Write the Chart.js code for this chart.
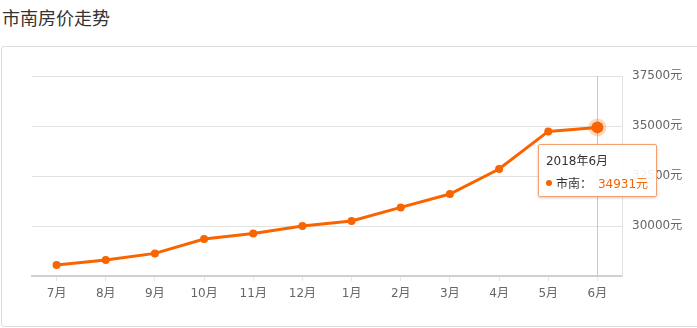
<!DOCTYPE html>
<html>
<head>
<meta charset="utf-8">
<script src="https://cdn.jsdelivr.net/npm/chart.js@4"></script>
<style>
  body { margin: 0; width: 697px; height: 328px; overflow: hidden; background: #fff;
    font-family: "Noto Sans CJK SC", "Noto Sans", sans-serif; position: relative; }
  .titulo { position: absolute; left: 2px; top: 4px; font-size: 18px; color: #333; }
  .card { position: absolute; left: 1px; top: 46px; width: 710px; height: 281px;
    border: 1px solid #ddd; border-radius: 3px; box-sizing: border-box; }
  #wrap { position: absolute; left: 0; top: 0; width: 697px; height: 328px; }
  #tip { position: absolute; display: none; background: rgba(255,255,255,0.9);
    border: 1px solid #f5a070; border-radius: 2px; box-shadow: 0 1px 3px rgba(0,0,0,0.2);
    padding: 6px 8px 5px 7px; font-size: 12px; color: #333; white-space: nowrap;
    font-family: "DejaVu Sans", "Noto Sans CJK SC", sans-serif; }
  #tip .t { margin-bottom: 6px; }
  #tip .dot { display: inline-block; width: 6px; height: 6px; border-radius: 50%;
    background: #f96400; margin-right: 4px; vertical-align: 2px; }
  #tip .v { color: #f96400; margin-left: 6px; }
</style>
</head>
<body>
<div class="titulo">市南房价走势</div>
<div class="card"></div>
<div id="wrap"><canvas id="precios"></canvas></div>
<div id="tip"></div>
<script>
const meses = ["7月", "8月", "9月", "10月", "11月", "12月", "1月", "2月", "3月", "4月", "5月", "6月"];
const anios = [2017, 2017, 2017, 2017, 2017, 2017, 2018, 2018, 2018, 2018, 2018, 2018];
const precios = [28050, 28300, 28630, 29350, 29630, 30000, 30250, 30930, 31600, 32850, 34730, 34931];
const ticksY = [27500, 30000, 32500, 35000, 37500];
const serie = "市南";
const naranja = "#f96400";
const fuente = "'DejaVu Sans', 'Noto Sans CJK SC', sans-serif";

// tooltip en HTML para poder colorear el valor
function tooltipExterno(context) {
  const tip = document.getElementById("tip");
  const t = context.tooltip;
  if (t.opacity === 0 || !t.dataPoints || !t.dataPoints.length) {
    tip.style.display = "none";
    return;
  }
  const i = t.dataPoints[0].dataIndex;
  tip.innerHTML = '<div class="t">' + anios[i] + "年" + meses[i] + "</div>" +
    '<div><span class="dot"></span>' + serie + '：<span class="v">' + precios[i] + "元</span></div>";
  tip.style.display = "block";
  const w = tip.offsetWidth;
  tip.style.left = (t.caretX - w / 2) + "px";
  tip.style.top = (t.caretY + 17) + "px";
}

// linea vertical en el punto activo (debajo de la serie)
const lineaGuia = {
  id: "lineaGuia",
  beforeDatasetsDraw(chart) {
    const act = chart.getActiveElements();
    if (!act.length) return;
    const x = act[0].element.x;
    const { top, bottom } = chart.chartArea;
    const ctx = chart.ctx;
    ctx.save();
    ctx.strokeStyle = "#c8c8c8";
    ctx.lineWidth = 1;
    ctx.beginPath();
    ctx.moveTo(Math.round(x) + 0.5, top);
    ctx.lineTo(Math.round(x) + 0.5, bottom);
    ctx.stroke();
    ctx.restore();
  }
};

const chart = new Chart(document.getElementById("precios").getContext("2d"), {
  type: "line",
  data: {
    labels: meses,
    datasets: [{
      label: serie,
      data: precios,
      borderColor: naranja,
      backgroundColor: naranja,
      borderWidth: 3,
      pointRadius: 4,
      pointBorderWidth: 0,
      pointHoverRadius: 6,
      pointHoverBorderWidth: 6,
      pointHoverBorderColor: "rgba(249,100,0,0.25)",
      pointHoverBackgroundColor: naranja,
      tension: 0
    }]
  },
  options: {
    responsive: true,
    maintainAspectRatio: false,
    animation: false,
    events: [],
    layout: { padding: { left: 32, top: 76, right: 0, bottom: 0 } },
    plugins: {
      legend: { display: false },
      tooltip: { enabled: false, external: tooltipExterno }
    },
    scales: {
      x: {
        offset: true,
        grid: { offset: false, drawOnChartArea: false, drawTicks: true, tickLength: 5, color: "#e6e6e6" },
        border: { color: "#d0d0d0", width: 2 },
        ticks: { color: "#666", font: { size: 12, family: fuente }, padding: 6, maxRotation: 0 },
        afterFit: s => { s.height = 52; }
      },
      y: {
        position: "right",
        min: 27500,
        max: 37500,
        afterBuildTicks: s => { s.ticks = ticksY.map(v => ({ value: v })); },
        grid: { color: "#e2e2e2", drawTicks: false },
        border: { color: "#e2e2e2" },
        ticks: {
          color: "#666",
          font: { size: 12, family: fuente },
          padding: 10,
          callback: v => v === 27500 ? null : v + "元"
        },
        afterFit: s => { s.width = 75; }
      }
    }
  },
  plugins: [lineaGuia]
});

const ult = precios.length - 1;
chart.setActiveElements([{ datasetIndex: 0, index: ult }]);
chart.tooltip.setActiveElements([{ datasetIndex: 0, index: ult }], { x: 0, y: 0 });
chart.update();
</script>
</body>
</html>
